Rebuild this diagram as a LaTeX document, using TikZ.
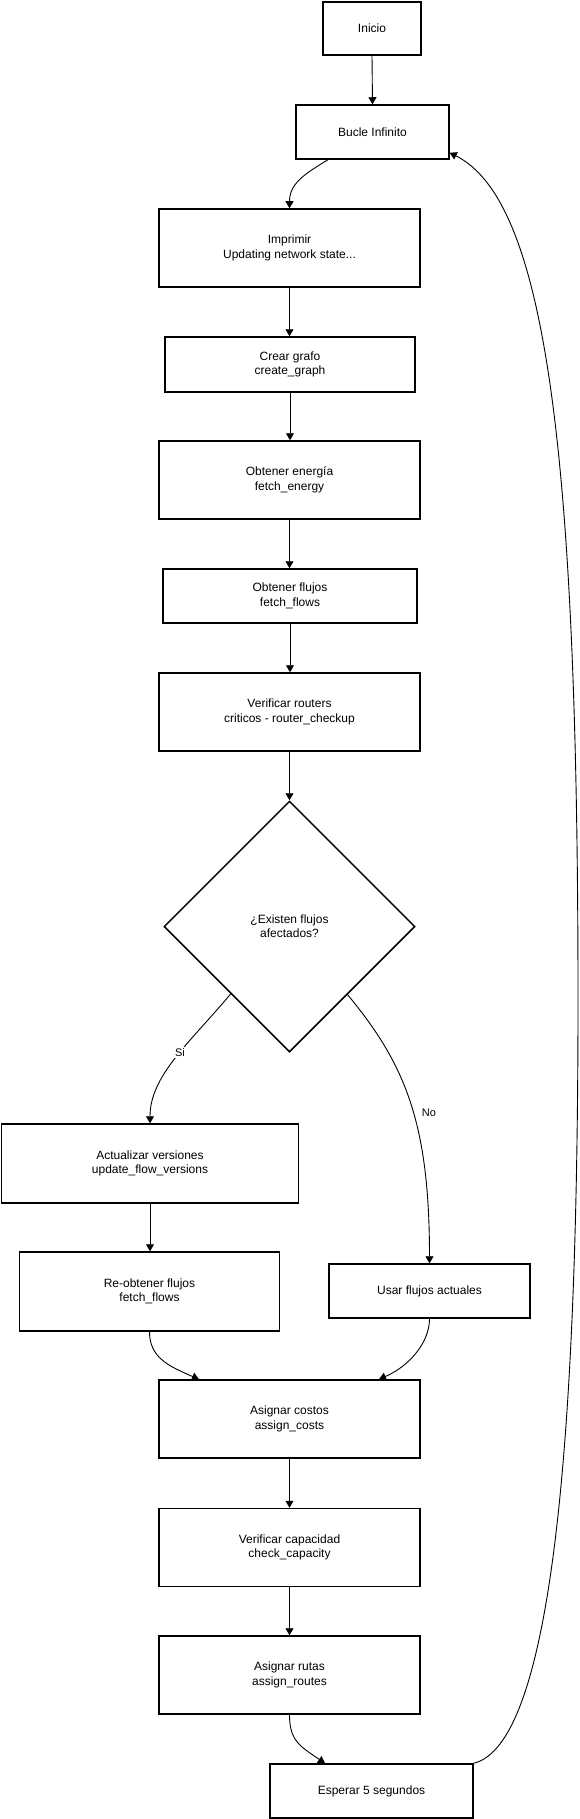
\documentclass[tikz,border=0pt]{standalone}
\usepackage{fontspec}
\setmainfont{Liberation Sans}
\usetikzlibrary{shapes.geometric,arrows.meta,calc}
\tikzset{
  box/.style={draw=black, line width=1.5pt, inner sep=0pt, align=center,
    font=\fontsize{12}{14.4}\selectfont, text=black, fill=white},
  decision/.style={box, diamond, aspect=1},
  conn/.style={draw=black, line width=0.9pt, -{Triangle[length=7pt,width=8pt]}},
  lbl/.style={font=\fontsize{11}{13}\selectfont, fill=white, inner sep=1.5pt, text=black}
}
\begin{document}
\begin{tikzpicture}[x=1pt,y=-1pt]
\useasboundingbox (0,0) rectangle (580,1819);
\node[box, minimum width=98pt, minimum height=53pt] (inicio) at (372,28.5) {Inicio};
\node[box, minimum width=153pt, minimum height=54pt] (bucle) at (372.5,132) {Bucle Infinito};
\node[box, minimum width=261pt, minimum height=78pt] (imprimir) at (289.5,248) {Imprimir\\Updating network state...};
\node[box, minimum width=250pt, minimum height=55pt] (crear) at (290,364.5) {Crear grafo\\create\_graph};
\node[box, minimum width=261pt, minimum height=78pt] (energia) at (289.5,480) {Obtener energía\\fetch\_energy};
\node[box, minimum width=254pt, minimum height=54pt] (flujos) at (290,596) {Obtener flujos\\fetch\_flows};
\node[box, minimum width=261pt, minimum height=78pt] (routers) at (289.5,712) {Verificar routers\\criticos - router\_checkup};
\node[decision, minimum width=251pt, minimum height=251pt] (dia) at (289.5,926.5) {¿Existen flujos\\afectados?};
\node[box, minimum width=297pt, minimum height=79pt] (actualizar) at (150,1163.5) {Actualizar versiones\\update\_flow\_versions};
\node[box, minimum width=260pt, minimum height=79pt] (reobtener) at (149.5,1291.5) {Re-obtener flujos\\fetch\_flows};
\node[box, minimum width=201pt, minimum height=54pt] (usar) at (429.5,1291) {Usar flujos actuales};
\node[box, minimum width=261pt, minimum height=78pt] (asignar) at (289.5,1419) {Asignar costos\\assign\_costs};
\node[box, minimum width=261pt, minimum height=78pt] (capacidad) at (289.5,1547.5) {Verificar capacidad\\check\_capacity};
\node[box, minimum width=261pt, minimum height=78pt] (rutas) at (289.5,1675) {Asignar rutas\\assign\_routes};
\node[box, minimum width=203pt, minimum height=54pt] (esperar) at (371.5,1791) {Esperar 5 segundos};

\draw[conn] (inicio.south) -- (bucle.north);
\draw[conn] ($(bucle.south)+(-44.5,0)$) .. controls +(-25,15) and +(0,-24) .. (imprimir.north);
\draw[conn] (imprimir.south) -- (imprimir.south |- crear.north);
\draw[conn] (crear.south) -- (crear.south |- energia.north);
\draw[conn] (energia.south) -- (energia.south |- flujos.north);
\draw[conn] (flujos.south) -- (flujos.south |- routers.north);
\draw[conn] (routers.south) -- (dia.north);
\draw[conn] ($(dia.west)!0.534!(dia.south)$) .. controls +(-40,48) and +(0,-48) .. (actualizar.north)
  node[lbl, pos=0.45] (si) {Si};
\draw[conn] ($(dia.east)!0.54!(dia.south)$) .. controls +(58,70) and +(0,-140) .. (usar.north);
\node[lbl] (no) at (429,1113) {No};
\draw[conn] (actualizar.south) -- (actualizar.south |- reobtener.north);
\draw[conn] (reobtener.south) .. controls +(0,26) and +(-30,-13) .. ($(asignar.north)+(-90.5,0)$);
\draw[conn] (usar.south) .. controls +(0,24) and +(30,-13) .. ($(asignar.north)+(89.5,0)$);
\draw[conn] (asignar.south) -- (capacidad.north);
\draw[conn] (capacidad.south) -- (rutas.north);
\draw[conn] (rutas.south) .. controls +(0,26) and +(-25,-17) .. ($(esperar.north)+(-46.5,0)$);
\coordinate (loopmid) at (578,1000);
\draw[conn] (esperar.north east) .. controls +(77,-19) and +(0,450) .. (loopmid)
  .. controls +(0,-550) and +(96,48) .. ($(bucle.south east)+(0,-7)$);
\end{tikzpicture}
\end{document}
